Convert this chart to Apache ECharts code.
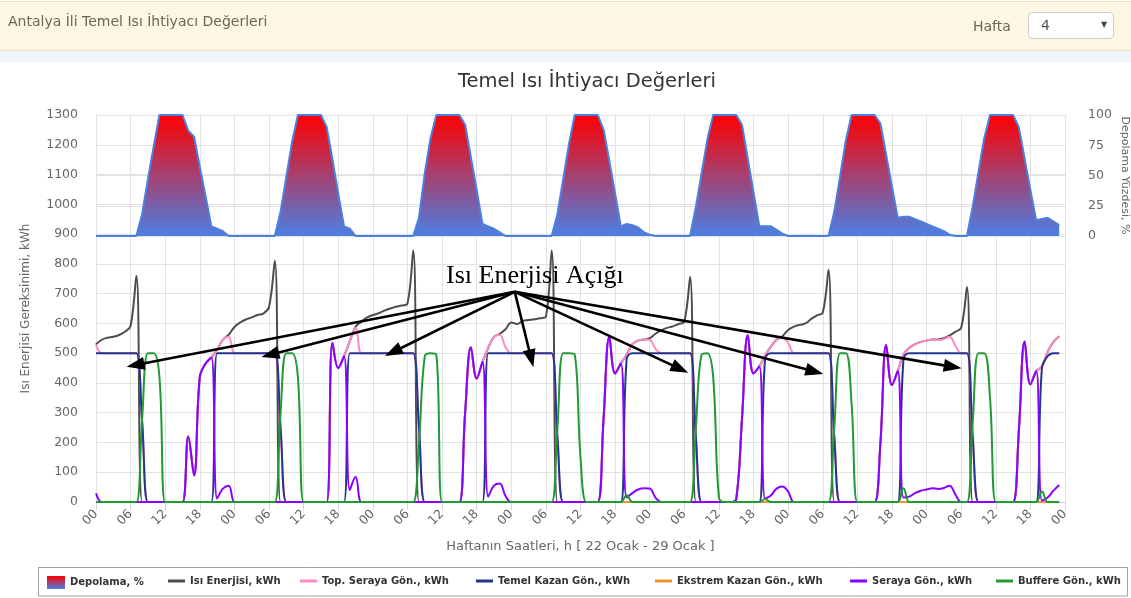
<!DOCTYPE html>
<html><head><meta charset="utf-8">
<script src="https://cdn.jsdelivr.net/npm/echarts@6/dist/echarts.min.js"></script>
<style>html,body{margin:0;padding:0;background:#fff;} #c{width:1131px;height:598px;}</style>
</head><body><div id="c"></div>
<script>
// x tick labels (hour of day, every 6 hours)
const tickLabels = ['00', '06', '12', '18'];

// Depolama, % (hourly, h0..h167)
const depolama = [
  0,0,0,0,0,0,0,0,18,47,74,100,100,100,100,100,87,82,57,33,8,6,4,0,
  0,0,0,0,0,0,0,0,20,49,78,100,100,100,100,100,90,63,35,8,6,0,0,0,
  0,0,0,0,0,0,0,0,15,52,81,100,100,100,100,100,92,65,38,10,8,6,3,0,
  0,0,0,0,0,0,0,0,18,47,76,100,100,100,100,100,88,62,35,8,10,9,7,3,
  1,0,0,0,0,0,0,0,24,52,80,100,100,100,100,100,92,64,36,8,8,8,5,2,
  0,0,0,0,0,0,0,0,20,49,79,100,100,100,100,100,93,67,41,15,16,16,14,12,
  10,8,6,4,1,0,0,0,24,53,81,100,100,100,100,100,90,64,38,13,14,15,12,9
];

// Isı Enerjisi, kWh
const isiEnerjisi = [
  529,545,552,555,561,572,592,760,0,0,0,0,0,0,0,0,220,90,420,465,485,512,545,562,
  588,603,613,620,628,633,655,810,0,0,0,0,0,0,0,0,0,535,450,490,540,589,606,620,
  628,634,643,650,656,660,667,845,0,0,0,0,0,0,0,0,300,520,415,470,518,555,565,580,
  603,598,608,611,614,617,623,845,0,0,0,0,0,0,0,0,280,555,432,465,495,530,542,546,
  550,565,577,585,590,598,606,756,0,0,0,0,0,0,0,10,280,560,432,455,492,522,545,557,
  578,589,595,600,615,627,636,780,0,0,0,0,0,0,0,0,200,527,393,440,495,518,530,538,
  542,546,546,550,560,572,585,722,0,0,0,0,0,0,0,0,240,539,395,440,455,505,538,557
];

// Top. Seraya Gön., kWh
const topSeraya = [
  529,500,500,500,500,500,500,500,270,0,0,0,0,0,0,0,220,90,420,465,485,512,545,555,
  500,500,500,500,500,500,500,500,250,0,0,0,0,0,0,0,0,535,450,490,540,585,500,500,
  500,500,500,500,500,500,500,500,250,0,0,0,0,0,0,0,300,520,415,470,518,555,562,520,
  500,500,500,500,500,500,500,500,220,0,0,0,0,0,0,0,280,555,432,465,495,530,542,546,
  545,515,500,500,500,500,500,500,220,0,0,0,0,0,0,10,280,560,432,455,492,522,545,552,
  535,500,500,500,500,500,500,500,220,0,0,0,0,0,0,0,200,527,393,440,495,518,530,538,
  542,546,544,547,555,525,500,500,220,0,0,0,0,0,0,0,240,539,395,440,455,505,538,557
];

// Temel Kazan Gön., kWh
const temelKazan = [
  500,500,500,500,500,500,500,500,270,0,0,0,0,0,0,0,0,0,0,0,0,500,500,500,
  500,500,500,500,500,500,500,500,250,0,0,0,0,0,0,0,0,0,0,0,500,500,500,500,
  500,500,500,500,500,500,500,500,250,0,0,0,0,0,0,0,0,0,0,0,500,500,500,500,
  500,500,500,500,500,500,500,500,220,0,0,0,0,0,0,0,0,0,0,0,480,500,500,500,
  500,500,500,500,500,500,500,500,220,0,0,0,0,0,0,0,0,0,0,0,480,500,500,500,
  500,500,500,500,500,500,500,500,220,0,0,0,0,0,0,0,0,0,0,0,480,500,500,500,
  500,500,500,500,500,500,500,500,220,0,0,0,0,0,0,0,0,0,0,0,450,490,500,500
];

// Ekstrem Kazan Gön., kWh
const ekstremKazan = [
  0,0,0,0,0,0,0,0,0,0,0,0,0,0,0,0,0,0,0,0,0,0,0,0,
  0,0,0,0,0,0,0,0,0,0,0,0,0,0,0,0,0,0,0,0,0,0,0,0,
  0,0,0,0,0,0,0,0,0,0,0,0,0,0,0,0,0,0,0,0,0,0,0,0,
  0,0,0,0,0,0,0,0,0,0,0,0,0,0,0,0,0,0,0,0,0,0,0,0,
  0,0,0,0,0,0,0,0,0,0,0,0,0,0,0,0,0,0,0,0,0,0,0,0,
  0,0,0,0,0,0,0,0,0,0,0,0,0,0,0,0,0,0,0,0,0,0,0,0,
  0,0,0,0,0,0,0,0,0,0,0,0,0,0,0,0,0,0,0,0,0,0,0,0
];

// Seraya Gön., kWh
const serayaGon = [
  29,0,0,0,0,0,0,0,0,0,0,0,0,0,0,0,220,90,420,465,485,12,45,55,
  0,0,0,0,0,0,0,0,0,0,0,0,0,0,0,0,0,535,450,490,40,85,0,0,
  0,0,0,0,0,0,0,0,0,0,0,0,0,0,0,0,300,520,415,470,18,55,62,20,
  0,0,0,0,0,0,0,0,0,0,0,0,0,0,0,0,280,555,432,465,15,30,42,46,
  45,15,0,0,0,0,0,0,0,0,0,0,0,0,0,10,280,560,432,455,12,22,45,52,
  35,0,0,0,0,0,0,0,0,0,0,0,0,0,0,0,200,527,393,440,15,18,30,38,
  42,46,44,47,55,25,0,0,0,0,0,0,0,0,0,0,240,539,395,440,5,15,38,57
];

// Buffere Gön., kWh
const buffereGon = [
  0,0,0,0,0,0,0,0,280,500,500,420,0,0,0,0,0,0,0,0,0,0,0,0,
  0,0,0,0,0,0,0,0,300,500,500,420,0,0,0,0,0,0,0,0,0,0,0,0,
  0,0,0,0,0,0,0,0,200,490,500,495,0,0,0,0,0,0,0,0,0,0,0,0,
  0,0,0,0,0,0,0,0,250,500,500,495,150,0,0,0,0,0,0,0,23,0,0,0,
  0,0,0,0,0,0,0,0,250,495,500,420,15,0,0,0,0,0,0,0,10,0,0,0,
  0,0,0,0,0,0,0,0,250,500,500,330,0,0,0,0,0,0,0,0,46,0,0,0,
  0,0,0,0,0,0,0,0,270,500,500,350,0,0,0,0,0,0,0,0,35,0,0,0
];

// annotation "Isı Enerjisi Açığı": arrows from a common origin (hour, kWh)
const annotOrigin = [72.6, 706];
const arrowEnds = [[6.84, 460], [30.2, 495], [51.5, 504], [75.45, 482], [101.27, 447], [124.58, 438], [148.54, 454]];

const FONT = 'DejaVu Sans';
const toXY = arr => arr.map((v, i) => [i, v]);
const depoGrad = () => new echarts.graphic.LinearGradient(0, 0, 0, 1, [
  { offset: 0, color: '#ff0000' }, { offset: 1, color: '#4b80e2' }
]);

const lineSeries = [
  { name: 'Isı Enerjisi, kWh', data: isiEnerjisi, color: '#4d4d4d' },
  { name: 'Top. Seraya Gön., kWh', data: topSeraya, color: '#ff88c6' },
  { name: 'Temel Kazan Gön., kWh', data: temelKazan, color: '#25348f' },
  { name: 'Ekstrem Kazan Gön., kWh', data: ekstremKazan, color: '#f0922f' },
  { name: 'Seraya Gön., kWh', data: serayaGon, color: '#8b00ff' },
  { name: 'Buffere Gön., kWh', data: buffereGon, color: '#1f9a35' }
];

const legendX = [47, 168, 300, 476, 655, 850, 996];
const legendNames = ['Depolama, %'].concat(lineSeries.map(s => s.name));
const legendText = { fontFamily: FONT, fontWeight: 'bold', fontSize: 10, color: '#333' };

const legends = legendNames.map((n, i) => ({
  data: [i === 0 ? { name: n, icon: 'rect', itemStyle: { color: depoGrad() } } : { name: n, icon: 'rect' }],
  left: legendX[i], top: 576, padding: 0,
  itemWidth: i === 0 ? 18 : 17, itemHeight: i === 0 ? 13 : 3,
  textStyle: legendText
}));

const axisLblColor = '#666';
const gridColor = '#e2e2e2';
const plainNum = v => String(v);

const series = [
  {
    name: 'Depolama, %', type: 'line', xAxisIndex: 1, yAxisIndex: 1,
    data: toXY(depolama), symbol: 'none', showSymbol: false,
    lineStyle: { color: '#4b80e2', width: 2 }, itemStyle: { color: '#4b80e2' },
    areaStyle: { color: depoGrad(), opacity: 1 }
  }
].concat(lineSeries.map(s => ({
  name: s.name, type: 'line', xAxisIndex: 0, yAxisIndex: 0,
  data: toXY(s.data), symbol: 'none', showSymbol: false, smooth: 0.4,
  color: s.color, itemStyle: { color: s.color },
  lineStyle: { color: s.color, width: 2 }
}))).concat([{
  name: 'annot', type: 'line', xAxisIndex: 0, yAxisIndex: 0, data: [], silent: true, z: 10,
  markLine: {
    silent: true, animation: false,
    symbol: ['none', 'triangle'], symbolSize: [13, 18],
    label: { show: false }, emphasis: { disabled: true },
    lineStyle: { color: '#000', width: 2.6, type: 'solid' },
    data: arrowEnds.map(e => [{ coord: annotOrigin }, { coord: e }])
  }
}]);

const option = {
  animation: false,
  backgroundColor: '#fff',
  title: {
    text: 'Temel Isı İhtiyacı Değerleri', left: 453, top: 67,
    textStyle: { fontFamily: FONT, fontSize: 19.5, fontWeight: 'normal', color: '#333' }
  },
  legend: legends,
  grid: [
    { left: 96, right: 66, top: 115, bottom: 96, outerBoundsMode: 'none', containLabel: false },
    { left: 96, right: 66, top: 115, height: 121, outerBoundsMode: 'none', containLabel: false }
  ],
  xAxis: [
    {
      gridIndex: 0, type: 'value', min: 0, max: 168, interval: 6,
      name: 'Haftanın Saatleri, h [ 22 Ocak - 29 Ocak ]', nameLocation: 'middle', nameGap: 38,
      nameMoveOverlap: false,
      nameTextStyle: { fontFamily: FONT, fontSize: 13, color: axisLblColor },
      axisLine: { lineStyle: { color: '#ccd6eb' } },
      axisTick: { show: true, length: 8, lineStyle: { color: '#ccd6eb' } },
      axisLabel: {
        rotate: 45, margin: 10, fontFamily: FONT, fontSize: 12.5, color: axisLblColor,
        showMinLabel: true, showMaxLabel: true,
        formatter: v => tickLabels[(v % 24) / 6]
      },
      splitLine: { show: true, lineStyle: { color: gridColor } }
    },
    { gridIndex: 1, type: 'value', min: 0, max: 168, show: false }
  ],
  yAxis: [
    {
      gridIndex: 0, type: 'value', min: 0, max: 1300, interval: 100,
      name: 'Isı Enerjisi Gereksinimi, kWh', nameLocation: 'middle', nameGap: 64,
      nameMoveOverlap: false,
      nameTextStyle: { fontFamily: FONT, fontSize: 12, color: axisLblColor },
      axisLine: { show: false }, axisTick: { show: false },
      axisLabel: { margin: 18, fontFamily: FONT, fontSize: 12.5, color: axisLblColor, formatter: plainNum },
      splitLine: { show: true, lineStyle: { color: gridColor } }
    },
    {
      gridIndex: 1, type: 'value', position: 'right', min: 0, max: 100, interval: 25,
      name: 'Depolama Yüzdesi, %', nameLocation: 'middle', nameGap: 54, nameRotate: -90,
      nameMoveOverlap: false,
      nameTextStyle: { fontFamily: FONT, fontSize: 11, color: axisLblColor },
      axisLine: { show: false }, axisTick: { show: false },
      axisLabel: { margin: 23, fontFamily: FONT, fontSize: 12.5, color: axisLblColor, formatter: plainNum },
      splitLine: { show: true, lineStyle: { color: gridColor } }
    }
  ],
  graphic: [
    { type: 'rect', shape: { x: -1, y: 1.5, width: 1133, height: 49 }, style: { fill: '#fcf6e3', stroke: '#f2e0c0', lineWidth: 1 }, z: -1 },
    { type: 'rect', shape: { x: 0, y: 51, width: 1131, height: 11 }, style: { fill: '#eff6fb' }, z: -1 },
    { type: 'text', x: 8, y: 22, style: { text: 'Antalya İli Temel Isı İhtiyacı Değerleri', font: '14px "DejaVu Sans"', fill: '#6f6557', verticalAlign: 'middle' } },
    { type: 'text', x: 973, y: 27, style: { text: 'Hafta', font: '14px "DejaVu Sans"', fill: '#6f6557', verticalAlign: 'middle' } },
    { type: 'rect', shape: { x: 1028.5, y: 12.5, width: 85, height: 26, r: 4 }, style: { fill: '#fff', stroke: '#cccccc', lineWidth: 1 } },
    { type: 'text', x: 1041, y: 26, style: { text: '4', font: '14px "DejaVu Sans"', fill: '#555', verticalAlign: 'middle' } },
    { type: 'text', x: 1101, y: 25, style: { text: '▼', font: '8px "DejaVu Sans"', fill: '#444', verticalAlign: 'middle' } },
    { type: 'text', x: 446, y: 276, z: 20, style: { text: 'Isı Enerjisi Açığı', font: '26px "Liberation Serif"', fill: '#000', verticalAlign: 'middle' } },
    { type: 'rect', shape: { x: 38.5, y: 567.5, width: 1089, height: 28.5 }, style: { fill: 'none', stroke: '#a0a0a0', lineWidth: 1 } }
  ],
  series: series
};

const chart = echarts.init(document.getElementById('c'), null, { renderer: 'canvas' });
chart.setOption(option);
</script>
</body></html>
